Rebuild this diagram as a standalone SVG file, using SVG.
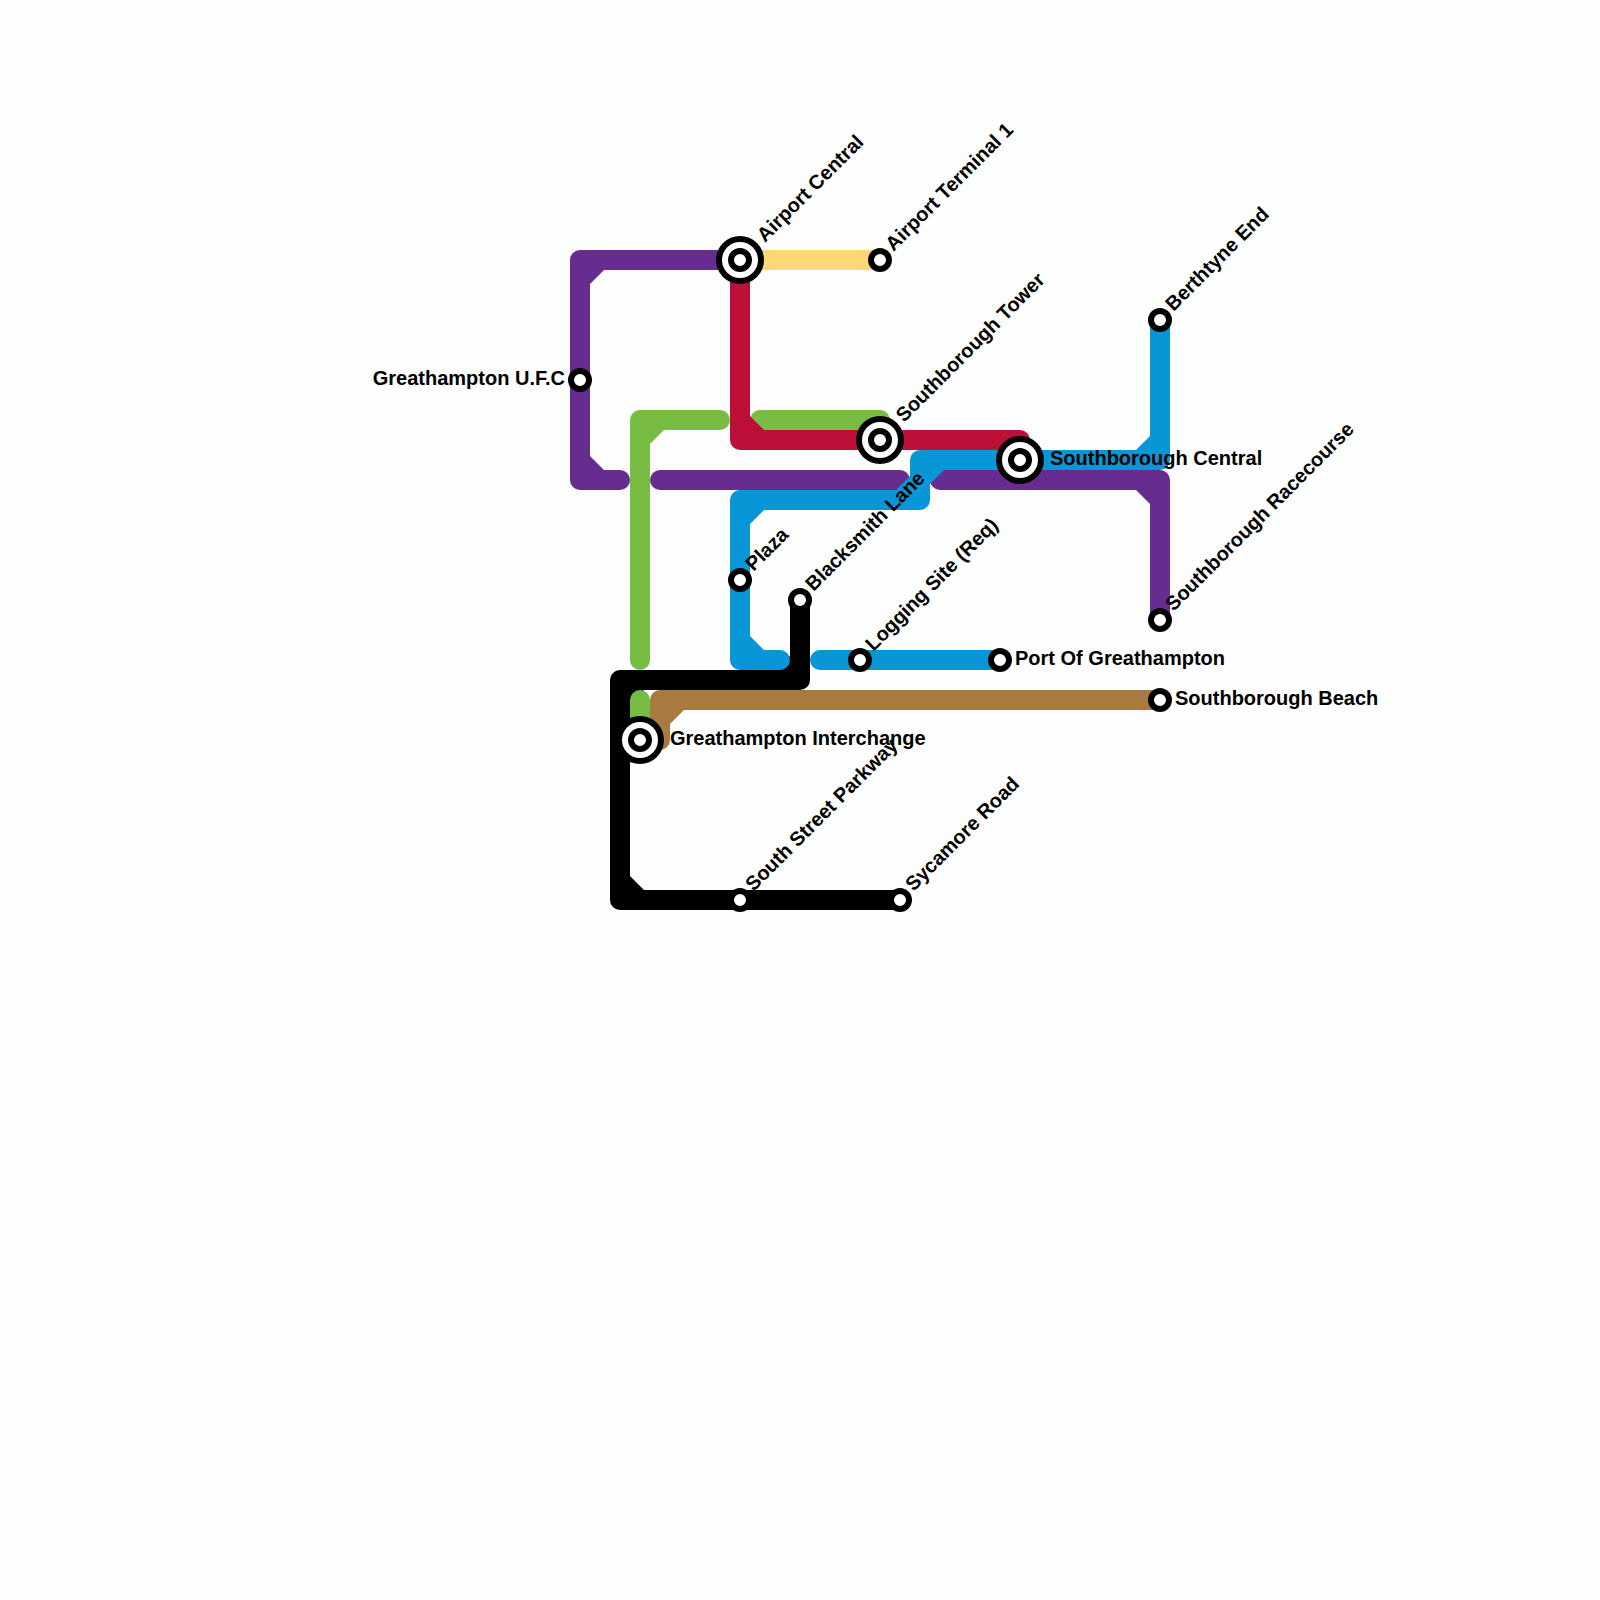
<svg xmlns="http://www.w3.org/2000/svg" width="1600" height="1600" viewBox="0 0 1600 1600">
<style>
.l{fill:none;stroke-width:20;stroke-linecap:round;stroke-linejoin:round}
.purple{stroke:#662c90}.f-purple{fill:#662c90}
.yellow{stroke:#ffd777}
.red{stroke:#bd1038}.f-red{fill:#bd1038}
.green{stroke:#79bc43}.f-green{fill:#79bc43}
.blue{stroke:#0896d7}.f-blue{fill:#0896d7}
.brown{stroke:#a97a40}.f-brown{fill:#a97a40}
.black{stroke:#000}.f-black{fill:#000}
.ring{fill:#fff;stroke:#000;stroke-width:6}
text{font-family:"Liberation Sans",Arial,sans-serif;font-size:20px;font-weight:700;fill:#000}
</style>
<rect width="1600" height="1600" fill="#fefefe"/>
<g id="connectors">
<path class="l black" d="M800 600V680H620V900H900"/>
<path class="f-black" d="M790 670h-14l14-14zM630 890v-14l14 14zM630 690h14l-14 14z"/>
<path class="l purple" d="M740 260H580V480H620"/>
<path class="f-purple" d="M590 270h14l-14 14zM590 470h14l-14-14z"/>
<path class="l purple" d="M660 480H900"/>
<path class="l purple" d="M940 480H1160V620"/>
<path class="f-purple" d="M1150 490h-14l14 14z"/>
<path class="l yellow" d="M740 260H880"/>
<path class="l green" d="M720 420H640V660"/>
<path class="f-green" d="M650 430h14l-14 14z"/>
<path class="l green" d="M760 420H880"/>
<path class="l green" d="M640 700V740"/>
<path class="l red" d="M740 260V440H1020"/>
<path class="f-red" d="M750 430v-14l14 14z"/>
<path class="l blue" d="M1160 320V460H920V500H740V660H780"/>
<path class="f-blue" d="M1150 450h-14l14-14zM930 470h14l-14 14zM910 490h-14l14-14zM750 510h14l-14 14zM750 650v-14l14 14z"/>
<path class="l blue" d="M820 660H1000"/>
<path class="l brown" d="M1160 700H660V740"/>
<path class="f-brown" d="M670 710h14l-14 14z"/>
</g>
<g id="airport-central"><circle cx="740" cy="260" r="24" fill="#000"/><circle cx="740" cy="260" r="18" fill="#fff"/><circle class="ring" cx="740" cy="260" r="9"/><text transform="translate(765 243) rotate(-45)">Airport Central</text></g>
<g id="airport-terminal-1"><circle class="ring" cx="880" cy="260" r="9"/><text transform="translate(893.5 252) rotate(-45)">Airport Terminal 1</text></g>
<g id="southborough-tower"><circle cx="880" cy="440" r="24" fill="#000"/><circle cx="880" cy="440" r="18" fill="#fff"/><circle class="ring" cx="880" cy="440" r="9"/><text transform="translate(904 423) rotate(-45)">Southborough Tower</text></g>
<g id="southborough-central"><circle cx="1020" cy="460" r="24" fill="#000"/><circle cx="1020" cy="460" r="18" fill="#fff"/><circle class="ring" cx="1020" cy="460" r="9"/><text x="1050" y="465">Southborough Central</text></g>
<g id="berthtyne-end"><circle class="ring" cx="1160" cy="320" r="9"/><text transform="translate(1173.5 312) rotate(-45)">Berthtyne End</text></g>
<g id="southborough-racecourse"><circle class="ring" cx="1160" cy="620" r="9"/><text transform="translate(1173.5 612) rotate(-45)">Southborough Racecourse</text></g>
<g id="greathampton-ufc"><circle class="ring" cx="580" cy="380" r="9"/><text x="565" y="385" text-anchor="end">Greathampton U.F.C</text></g>
<g id="plaza"><circle class="ring" cx="740" cy="580" r="9"/><text transform="translate(753.5 572) rotate(-45)">Plaza</text></g>
<g id="blacksmith-lane"><circle class="ring" cx="800" cy="600" r="9"/><text transform="translate(813.5 592) rotate(-45)">Blacksmith Lane</text></g>
<g id="logging-site"><circle class="ring" cx="860" cy="660" r="9"/><text transform="translate(873.5 652) rotate(-45)">Logging Site (Req)</text></g>
<g id="port-of-greathampton"><circle class="ring" cx="1000" cy="660" r="9"/><text x="1015" y="665">Port Of Greathampton</text></g>
<g id="southborough-beach"><circle class="ring" cx="1160" cy="700" r="9"/><text x="1175" y="705">Southborough Beach</text></g>
<g id="greathampton-interchange"><circle cx="640" cy="740" r="24" fill="#000"/><circle cx="640" cy="740" r="18" fill="#fff"/><circle class="ring" cx="640" cy="740" r="9"/><text x="670" y="745">Greathampton Interchange</text></g>
<g id="south-street-parkway"><circle class="ring" cx="740" cy="900" r="9"/><text transform="translate(753.5 892) rotate(-45)">South Street Parkway</text></g>
<g id="sycamore-road"><circle class="ring" cx="900" cy="900" r="9"/><text transform="translate(913.5 892) rotate(-45)">Sycamore Road</text></g>
</svg>
